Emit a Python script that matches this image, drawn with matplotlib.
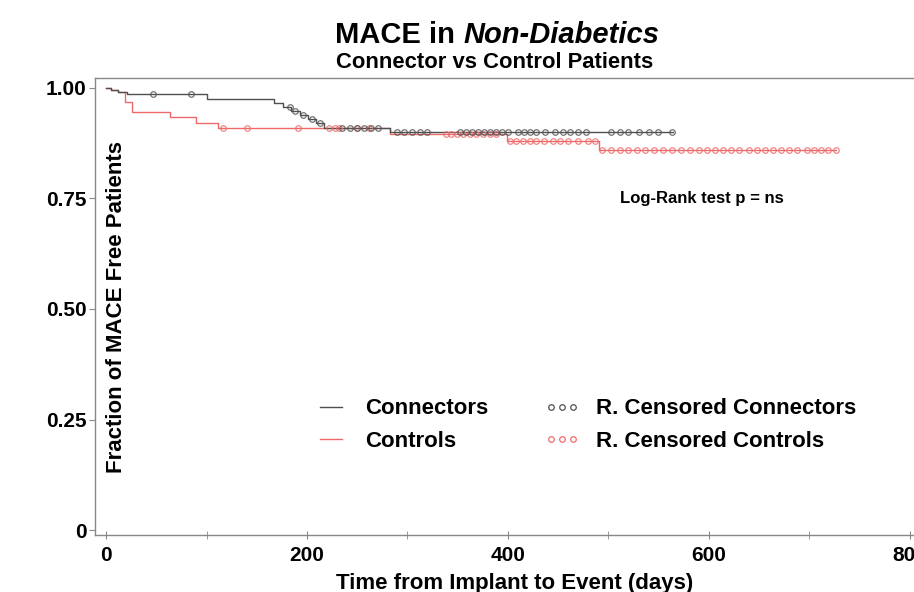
import numpy as np
import matplotlib
matplotlib.use('Agg')
import matplotlib.pyplot as plt
from matplotlib.lines import Line2D

plt.rcParams['font.family'] = ['Liberation Sans', 'DejaVu Sans']
plt.rcParams['font.weight'] = 'bold'

# Kaplan-Meier steps (days, fraction MACE free)
conn_t = [0, 5, 12, 21, 100, 167, 176, 184, 193, 201, 209, 217, 283, 564]
conn_s = [1.0, 0.996, 0.991, 0.986, 0.975, 0.966, 0.957, 0.948, 0.939, 0.93, 0.92, 0.909, 0.901, 0.901]
ctrl_t = [0, 5, 12, 19, 26, 64, 90, 111, 283, 399, 491, 727]
ctrl_s = [1.0, 0.996, 0.991, 0.969, 0.946, 0.935, 0.920, 0.909, 0.897, 0.881, 0.860, 0.860]

# right-censored times
conn_cens = [47, 85, 183, 188, 196, 205, 213, 235, 243, 250, 257, 264, 271,
             290, 297, 305, 312, 319, 352, 358, 364, 370, 376, 382, 388, 394,
             400, 410, 416, 422, 428, 437, 447, 455, 462, 470, 478, 503, 512,
             520, 530, 540, 549, 563]
ctrl_cens = [116, 140, 191, 222, 228, 232, 250, 262, 338, 343, 349, 355, 362,
             368, 375, 382, 388, 402, 408, 415, 422, 428, 436, 445, 452, 460,
             470, 480, 487, 494, 503, 512, 520, 528, 536, 545, 554, 563, 572,
             581, 590, 598, 606, 614, 622, 630, 640, 648, 656, 664, 672, 680,
             688, 698, 705, 712, 719, 727]

x_ticks = [0, 200, 400, 600, 800]
y_ticks = [0, 0.25, 0.5, 0.75, 1.0]
y_labels = ['0', '0.25', '0.50', '0.75', '1.00']

conn_col = '#505050'
ctrl_col = '#ee6a6a'


def km_at(t_steps, s_steps, times):
    idx = np.searchsorted(t_steps, times, side='right') - 1
    return np.array(s_steps)[idx]


fig = plt.figure(figsize=(9.14, 5.92), dpi=100)
ax = fig.add_axes([95 / 914, 57 / 592, 865 / 914, 457 / 592])

ax.step(ctrl_t, ctrl_s, where='post', color=ctrl_col, lw=1.0)
ax.step(conn_t, conn_s, where='post', color=conn_col, lw=1.0)
ax.plot(ctrl_cens, km_at(ctrl_t, ctrl_s, ctrl_cens), 'o', ms=4, mfc='none',
        mec=ctrl_col, mew=0.9, alpha=0.8)
ax.plot(conn_cens, km_at(conn_t, conn_s, conn_cens), 'o', ms=4, mfc='none',
        mec=conn_col, mew=0.9, alpha=0.8)

ax.set_xlim(-11, 850)
ax.set_ylim(-0.0113, 1.0226)
ax.set_xticks(x_ticks)
ax.set_xticks([100, 300, 500, 700], minor=True)
ax.set_yticks(y_ticks)
ax.set_yticklabels(y_labels)
for sp in ax.spines.values():
    sp.set_color('#888888')
    sp.set_linewidth(1.0)
ax.tick_params(axis='x', which='both', direction='inout', length=6,
               color='#888888', labelsize=15, pad=5)
ax.tick_params(axis='y', direction='out', length=4, color='#888888',
               labelsize=15, pad=2)

fig.text(455 / 914, 1 - 35 / 592, 'MACE in', ha='right', va='center',
         fontsize=21, fontweight='bold')
fig.text(463 / 914, 1 - 35 / 592, 'Non-Diabetics', ha='left', va='center',
         fontsize=21, fontweight='bold', fontstyle='italic')
fig.text(495 / 914, 1 - 62 / 592, 'Connector vs Control Patients',
         ha='center', va='center', fontsize=15.8, fontweight='bold')
fig.text(515 / 914, 1 - 583 / 592, 'Time from Implant to Event (days)',
         ha='center', va='center', fontsize=16, fontweight='bold')
fig.text(117 / 914, 1 - 307 / 592, 'Fraction of MACE Free Patients',
         ha='center', va='center', rotation=90, fontsize=16, fontweight='bold')
fig.text(702 / 914, 1 - 198 / 592, 'Log-Rank test p = ns', ha='center',
         va='center', fontsize=12, fontweight='bold')

handles = [Line2D([], [], color=conn_col, lw=1.0),
           Line2D([], [], color=ctrl_col, lw=1.0),
           Line2D([], [], ls='none', marker='o', ms=4, mfc='none', mec=conn_col, mew=0.9),
           Line2D([], [], ls='none', marker='o', ms=4, mfc='none', mec=ctrl_col, mew=0.9)]
labels = ['Connectors', 'Controls', 'R. Censored Connectors', 'R. Censored Controls']
ax.legend(handles, labels, ncol=2, numpoints=3, frameon=False,
          loc='center', bbox_to_anchor=(585 / 914, 1 - 425 / 592),
          bbox_transform=fig.transFigure, fontsize=16, handlelength=1.6,
          handletextpad=0.75, columnspacing=2.5, labelspacing=0.5,
          borderpad=0, borderaxespad=0)

fig.savefig('out.png', dpi=100)
